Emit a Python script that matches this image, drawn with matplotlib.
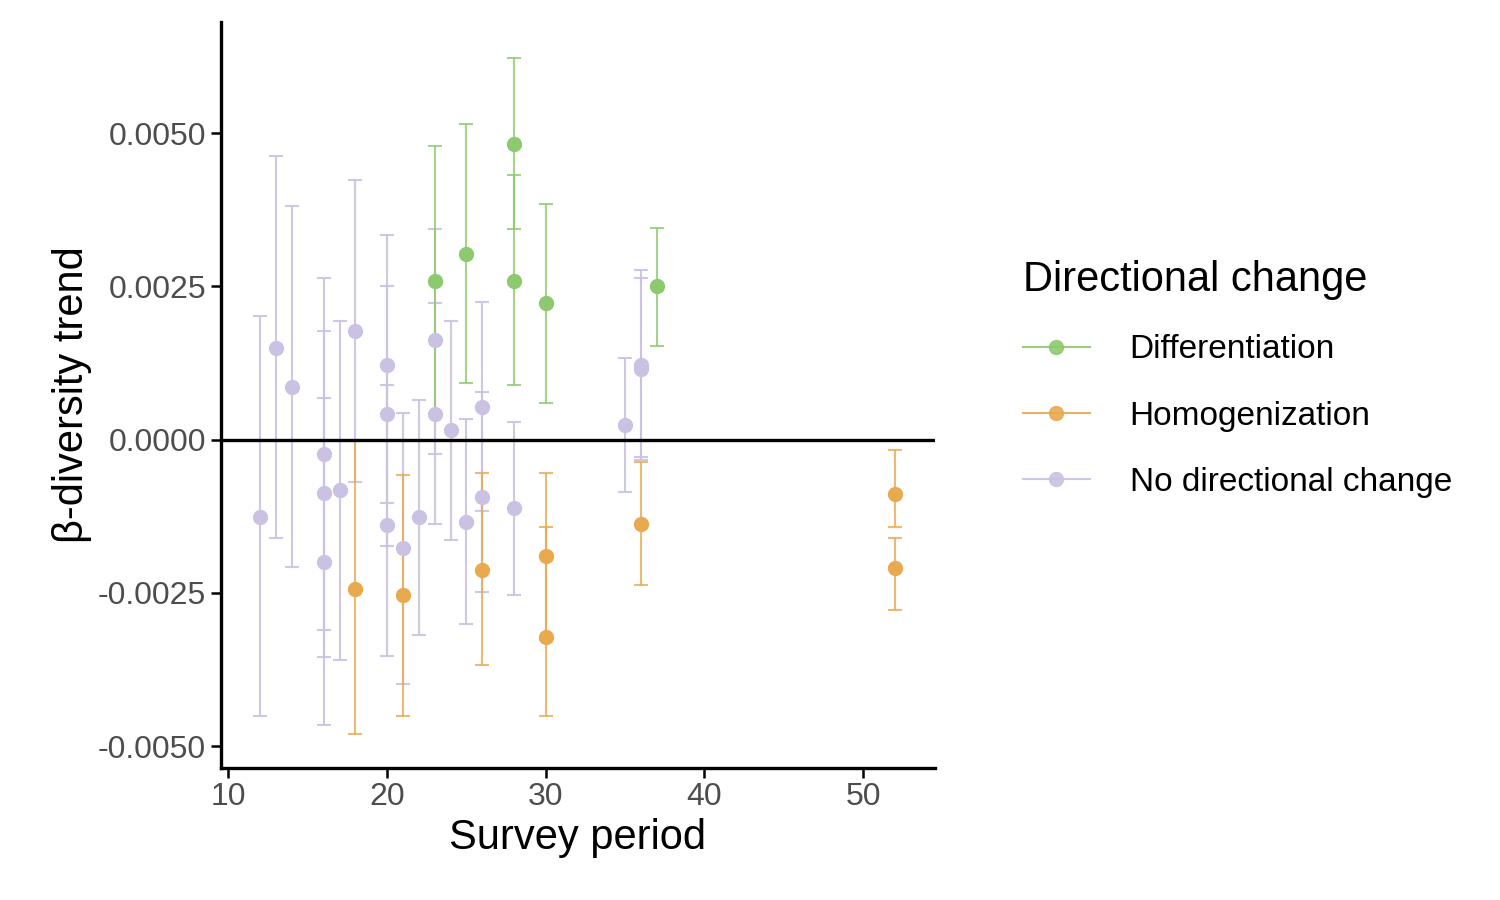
import matplotlib.pyplot as plt
from matplotlib.lines import Line2D

plt.rcParams['font.family'] = ['Liberation Sans', 'DejaVu Sans']

# purple: no directional change
nd_x = [12, 13, 14, 16, 16, 16, 17, 18, 20, 20, 20, 21, 22, 23, 23, 24, 25, 26, 26, 28, 35, 36, 36]
nd_y = [-0.00126, 0.00150, 0.00086, -0.00023, -0.00087, -0.00199, -0.00082, 0.00178, 0.00122, 0.00042,
        -0.00139, -0.00176, -0.00126, 0.00163, 0.00042, 0.00016, -0.00134, 0.00054, -0.00093, -0.00111,
        0.00024, 0.00122, 0.00116]
nd_hi = [0.00201, 0.00463, 0.00382, 0.00263, 0.00178, 0.00068, 0.00194, 0.00423, 0.00334, 0.00250,
         0.00090, 0.00044, 0.00064, 0.00344, 0.00223, 0.00194, 0.00033, 0.00225, 0.00078, 0.00029,
         0.00134, 0.00277, 0.00264]
nd_lo = [-0.00451, -0.00160, -0.00207, -0.00310, -0.00354, -0.00465, -0.00359, -0.00069, -0.00104, -0.00173,
         -0.00352, -0.00398, -0.00318, -0.00024, -0.00137, -0.00163, -0.00300, -0.00117, -0.00248, -0.00253,
         -0.00085, -0.00029, -0.00033]

# green: differentiation
df_x = [23, 25, 28, 28, 30, 37]
df_y = [0.00259, 0.00303, 0.00483, 0.00259, 0.00223, 0.00250]
df_hi = [0.00479, 0.00515, 0.00623, 0.00432, 0.00385, 0.00346]
df_lo = [0.00042, 0.00093, 0.00343, 0.00090, 0.00060, 0.00153]

# orange: homogenization
hm_x = [18, 21, 26, 30, 30, 36, 52, 52]
hm_y = [-0.00243, -0.00254, -0.00212, -0.00189, -0.00321, -0.00137, -0.00088, -0.00210]
hm_hi = [-0.00002, -0.00057, -0.00055, -0.00054, -0.00142, -0.00036, -0.00016, -0.00161]
hm_lo = [-0.00480, -0.00451, -0.00367, -0.00326, -0.00450, -0.00237, -0.00142, -0.00277]

groups = [
    ('Differentiation', '#8DC96E', df_x, df_y, df_lo, df_hi),
    ('Homogenization', '#E8A94F', hm_x, hm_y, hm_lo, hm_hi),
    ('No directional change', '#CBC1E2', nd_x, nd_y, nd_lo, nd_hi),
]
line_alpha = {'Differentiation': 0.8, 'Homogenization': 0.8, 'No directional change': 0.9}

fig = plt.figure(figsize=(15, 9), dpi=100)
ax = fig.add_axes([0.147, 0.147, 0.476, 0.829])

for name, col, x, y, lo, hi in reversed(groups):
    err = [[yy - l for yy, l in zip(y, lo)], [h - yy for yy, h in zip(y, hi)]]
    _, caps, bars = ax.errorbar(x, y, yerr=err, fmt='none', ecolor=col, elinewidth=1.5,
                                capsize=5, capthick=1.5, zorder=2)
    for a in list(caps) + list(bars):
        a.set_alpha(line_alpha[name])
    ax.plot(x, y, 'o', color=col, markersize=10, zorder=3)

ax.axhline(0, color='black', lw=2.4, zorder=4)
ax.set_xlim(9.5, 54.5)
ax.set_ylim(-0.00535, 0.00682)
ax.set_xticks([10, 20, 30, 40, 50])
ax.set_yticks([-0.005, -0.0025, 0, 0.0025, 0.005])
ax.set_yticklabels(['-0.0050', '-0.0025', '0.0000', '0.0025', '0.0050'])
for s in ['top', 'right']:
    ax.spines[s].set_visible(False)
for s in ['left', 'bottom']:
    ax.spines[s].set_linewidth(2.4)
ax.tick_params(labelsize=23, labelcolor='#4d4d4d', width=1.8, length=7)
ax.set_xlabel('Survey period', fontsize=30)
ax.set_ylabel('β-diversity trend', fontsize=30)

handles = [Line2D([0], [0], color=c, marker='o', markersize=10, lw=1.5, alpha=0.9) for _, c, *_ in groups]
leg = fig.legend(handles, [g[0] for g in groups], title='Directional change',
                 loc='upper left', bbox_to_anchor=(0.662, 0.745), frameon=False,
                 fontsize=24, title_fontsize=30, handlelength=2.0, labelspacing=1.05,
                 handletextpad=1.2)
leg._legend_box.align = 'left'

fig.savefig('out.png')
